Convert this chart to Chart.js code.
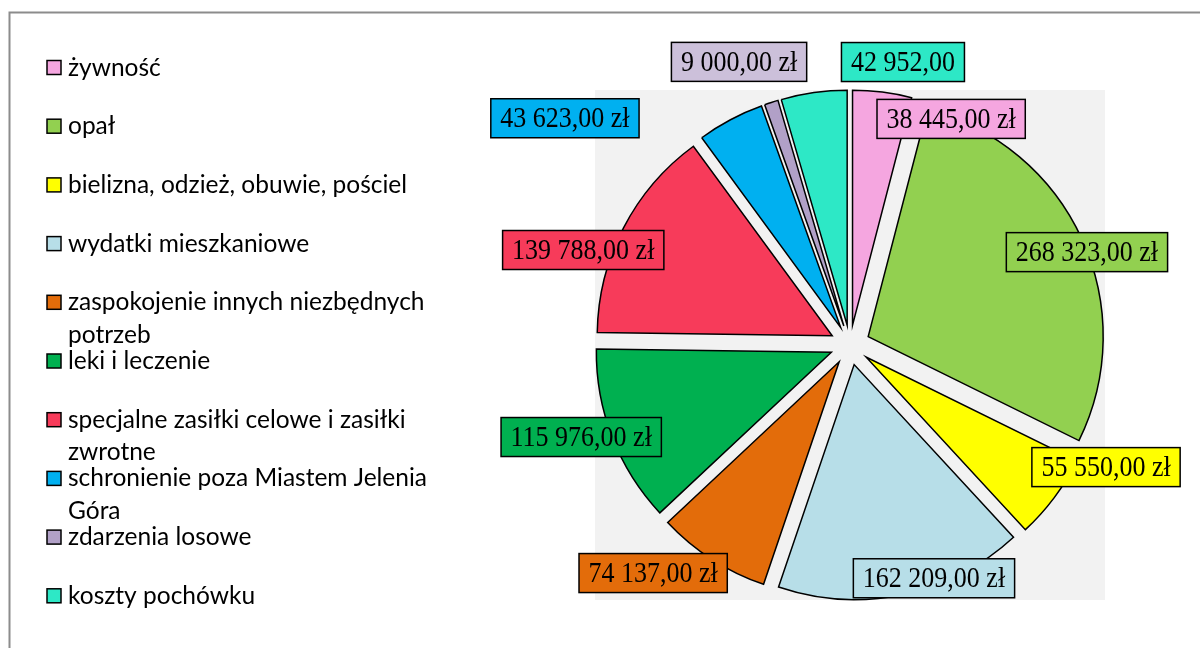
<!DOCTYPE html>
<html>
<head>
<meta charset="utf-8">
<script src="https://cdn.jsdelivr.net/npm/chart.js@4"></script>
<style>
  html, body { margin: 0; padding: 0; background: #ffffff; }
  #wrap { width: 1200px; height: 648px; position: relative; overflow: hidden; }
  canvas { display: block; }
</style>
</head>
<body>
<div id="wrap"><canvas id="c" width="1200" height="648"></canvas></div>
<script>
// ---- data ----
const categories = [
  'żywność',
  'opał',
  'bielizna, odzież, obuwie, pościel',
  'wydatki mieszkaniowe',
  'zaspokojenie innych niezbędnych potrzeb',
  'leki i leczenie',
  'specjalne zasiłki celowe i zasiłki zwrotne',
  'schronienie poza Miastem Jelenia Góra',
  'zdarzenia losowe',
  'koszty pochówku'
];
const amounts = [38445, 268323, 55550, 162209, 74137, 115976, 139788, 43623, 9000, 42952];
const showCurrency = [true, true, true, true, true, true, true, true, true, false];

// ---- styles / layout ----
const sliceColors = ['#F5A6E0', '#92D050', '#FFFF00', '#B7DEE8', '#E36C0A', '#00B050', '#F73B5A', '#00B0F0', '#B1A0C7', '#2DE8C6'];
const labelFill   = ['#F5A6E0', '#92D050', '#FFFF00', '#B7DEE8', '#E36C0A', '#00B050', '#F73B5A', '#00B0F0', '#CCC0DA', '#2DE8C6'];
// label placement: [angle in degrees clockwise from 12 o'clock, distance as multiple of the pie radius]
const labelPlacement = [[24.1, 1.054], [68.6, 1.083], [115.5, 1.207], [160.2, 1.055], [220.8, 1.282],
                        [251.1, 1.209], [289.6, 1.205], [308.5, 1.55], [338.6, 1.294], [10.6, 1.225]];
const EXPLODE = 20;
const PIE_RADIUS = 235;

function formatPL(v) {
  const s = Math.round(v).toString().replace(/\B(?=(\d{3})+(?!\d))/g, ' ');
  return s + ',00';
}

// exploded slices: translate each arc along its mid-angle
const origArcDraw = Chart.ArcElement.prototype.draw;
Chart.ArcElement.prototype.draw = function (ctx) {
  const a = (this.startAngle + this.endAngle) / 2;
  ctx.save();
  ctx.translate(Math.cos(a) * EXPLODE, Math.sin(a) * EXPLODE);
  origArcDraw.call(this, ctx);
  ctx.restore();
};

const framePlugin = {
  id: 'frame',
  beforeDraw(chart) {
    const ctx = chart.ctx;
    ctx.save();
    ctx.fillStyle = '#ffffff';
    ctx.fillRect(0, 0, chart.width, chart.height);
    ctx.strokeStyle = '#8C8C8C';
    ctx.lineWidth = 2;
    ctx.strokeRect(9.5, 12.5, 1400, 800);
    ctx.restore();
  },
  beforeDatasetsDraw(chart) {
    const ctx = chart.ctx;
    const a = chart.chartArea;
    ctx.save();
    ctx.fillStyle = '#F2F2F2';
    ctx.fillRect(a.left, a.top, a.right - a.left, a.bottom - a.top);
    ctx.restore();
  }
};

const legendPlugin = {
  id: 'customLegend',
  afterDraw(chart) {
    const ctx = chart.ctx;
    ctx.save();
    ctx.font = '24.5px Lato';
    ctx.textBaseline = 'alphabetic';
    const top = 67.5, step = 58.7, lineH = 32.5, maxW = 385;
    categories.forEach((label, i) => {
      const cy = top + i * step;
      ctx.fillStyle = sliceColors[i];
      ctx.fillRect(47, cy - 7, 14, 14);
      ctx.strokeStyle = '#000';
      ctx.lineWidth = 1.5;
      ctx.strokeRect(47, cy - 7, 14, 14);
      // wrap
      const words = label.split(' ');
      const lines = [];
      let cur = '';
      words.forEach(w => {
        const t = cur ? cur + ' ' + w : w;
        if (ctx.measureText(t).width > maxW && cur) { lines.push(cur); cur = w; }
        else cur = t;
      });
      lines.push(cur);
      ctx.fillStyle = '#000';
      lines.forEach((ln, k) => ctx.fillText(ln, 68, cy + 8 + k * lineH));
    });
    ctx.restore();
  }
};

const labelPlugin = {
  id: 'sliceLabels',
  afterDatasetsDraw(chart) {
    const ctx = chart.ctx;
    const meta = chart.getDatasetMeta(0);
    ctx.save();
    ctx.font = '26px "Liberation Serif"';
    meta.data.forEach((arc, i) => {
      const R = arc.outerRadius;
      const [deg, f] = labelPlacement[i];
      const ang = deg * Math.PI / 180;
      const cx = arc.x + Math.sin(ang) * R * f;
      const cy = arc.y - Math.cos(ang) * R * f;
      const text = formatPL(chart.data.datasets[0].data[i]) + (showCurrency[i] ? ' zł' : '');
      const tw = ctx.measureText(text).width;
      const w = tw + 19, h = 39;
      ctx.fillStyle = labelFill[i];
      ctx.fillRect(cx - w / 2, cy - h / 2, w, h);
      ctx.strokeStyle = '#000';
      ctx.lineWidth = 1.5;
      ctx.strokeRect(cx - w / 2, cy - h / 2, w, h);
      ctx.fillStyle = '#000';
      ctx.textAlign = 'center';
      ctx.textBaseline = 'alphabetic';
      ctx.save();
      ctx.translate(cx, cy + 9);
      ctx.scale(1, 1.1);
      ctx.fillText(text, 0, 0);
      ctx.restore();
    });
    ctx.restore();
  }
};

new Chart(document.getElementById('c'), {
  type: 'pie',
  data: {
    labels: categories,
    datasets: [{
      data: amounts,
      backgroundColor: sliceColors,
      borderColor: '#000000',
      borderWidth: 1.5,
      borderJoinStyle: 'miter',
      offset: 0
    }]
  },
  options: {
    responsive: false,
    devicePixelRatio: 1,
    animation: false,
    radius: PIE_RADIUS,
    layout: { padding: { left: 595, right: 95, top: 90, bottom: 48 } },
    plugins: {
      legend: { display: false },
      tooltip: { enabled: false },
      title: { display: false }
    }
  },
  plugins: [framePlugin, legendPlugin, labelPlugin]
});
</script>
</body>
</html>
